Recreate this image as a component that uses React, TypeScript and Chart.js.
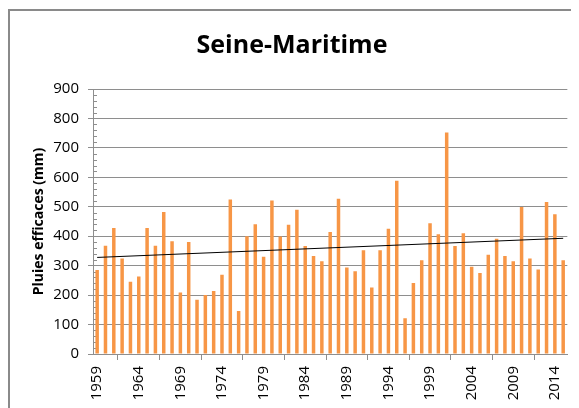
import React, { useEffect, useRef } from "react";
import { Chart, registerables } from "chart.js";

Chart.register(...registerables);

const years: string[] = [
  "1959","1960","1961","1962","1963","1964","1965","1966","1967","1968",
  "1969","1970","1971","1972","1973","1974","1975","1976","1977","1978",
  "1979","1980","1981","1982","1983","1984","1985","1986","1987","1988",
  "1989","1990","1991","1992","1993","1994","1995","1996","1997","1998",
  "1999","2000","2001","2002","2003","2004","2005","2006","2007","2008",
  "2009","2010","2011","2012","2013","2014","2015",
];

const pluies: number[] = [
  285, 368, 428, 324, 245, 263, 428, 368, 482, 383,
  209, 380, 184, 200, 214, 269, 525, 146, 400, 441,
  330, 521, 399, 439, 490, 367, 333, 315, 414, 527,
  294, 281, 352, 226, 352, 425, 588, 121, 241, 318,
  444, 407, 752, 367, 410, 296, 275, 337, 391, 333,
  315, 499, 324, 287, 516, 475, 318,
];

const trendStart = 328;
const trendEnd = 393;

const yTicks: number[] = [0, 100, 200, 300, 400, 500, 600, 700, 800, 900];

const FONT = "'Open Sans', sans-serif";

export default function App() {
  const ref = useRef<HTMLCanvasElement | null>(null);

  useEffect(() => {
    document.documentElement.style.overflow = "hidden";
    document.body.style.overflow = "hidden";
    const canvas = ref.current;
    if (!canvas) return;

    const trend = years.map((_, i) =>
      i === 0 ? trendStart : i === years.length - 1 ? trendEnd : null
    );

    const minorTicks = {
      id: "minorTicks",
      beforeDatasetsDraw(chart: any) {
        const y = chart.scales.y;
        const ctx = chart.ctx;
        const left = chart.chartArea.left;
        ctx.save();
        ctx.strokeStyle = "#8e8e8e";
        ctx.lineWidth = 1;
        for (let v = 20; v < 900; v += 20) {
          if (v % 100 === 0) continue;
          const py = Math.round(y.getPixelForValue(v)) + 0.5;
          ctx.beginPath();
          ctx.moveTo(left, py);
          ctx.lineTo(left + 4, py);
          ctx.stroke();
        }
        ctx.restore();
      },
    };

    const chart = new Chart(canvas, {
      type: "bar",
      data: {
        labels: years,
        datasets: [
          {
            type: "line",
            data: trend as any,
            borderColor: "#000000",
            borderWidth: 1,
            pointRadius: 0,
            spanGaps: true,
            order: 0,
          } as any,
          {
            type: "bar",
            data: pluies,
            backgroundColor: "#F79646",
            categoryPercentage: 1,
            barPercentage: 0.42,
            order: 1,
          },
        ],
      },
      options: {
        responsive: false,
        animation: false,
        layout: { padding: { left: 0, right: 5, top: 0, bottom: 0 } },
        plugins: {
          legend: { display: false },
          tooltip: { enabled: false },
          title: {
            display: true,
            text: "Seine-Maritime",
            color: "#000",
            font: { family: FONT, size: 25, weight: "bold" },
            padding: { top: 20, bottom: 28 },
          },
        },
        scales: {
          x: {
            offset: true,
            grid: {
              offset: true,
              drawOnChartArea: false,
              drawTicks: true,
              tickLength: 6,
              color: "#8e8e8e",
            },
            border: { color: "#8e8e8e" },
            ticks: {
              autoSkip: false,
              minRotation: 90,
              maxRotation: 90,
              padding: 6,
              color: "#000",
              font: { family: FONT, size: 15 },
              callback: (_v: any, i: number) => (i % 5 === 0 ? years[i] : null),
            },
            afterFit: (s: any) => {
              s.height = 54;
            },
          },
          y: {
            min: 0,
            max: 900,
            afterBuildTicks: (s: any) => {
              s.ticks = yTicks.map((v) => ({ value: v }));
            },
            grid: {
              color: "#8e8e8e",
              tickLength: 5,
            },
            border: { color: "#8e8e8e" },
            ticks: {
              padding: 9,
              color: "#000",
              font: { family: FONT, size: 15 },
            },
            title: {
              display: true,
              text: "Pluies efficaces (mm)",
              color: "#000",
              font: { family: FONT, size: 14, weight: "bold" },
              padding: { top: 21, bottom: 0 },
            },
            afterFit: (s: any) => {
              s.width = 83;
            },
          },
        },
      },
      plugins: [minorTicks],
    });

    return () => chart.destroy();
  }, []);

  return (
    <div
      style={{
        marginTop: 1,
        borderTop: "2px solid #8a8a8a",
        borderLeft: "2px solid #8a8a8a",
        width: 571,
        height: 399,
        boxSizing: "border-box",
        background: "#fff",
      }}
    >
      <canvas ref={ref} width={569} height={397} style={{ display: "block" }} />
    </div>
  );
}
